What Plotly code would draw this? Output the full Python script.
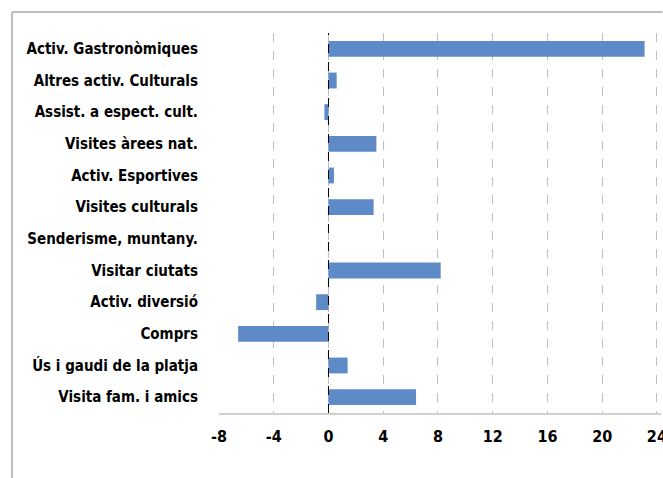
import plotly.graph_objects as go

categories = [
    "Activ. Gastronòmiques",
    "Altres activ. Culturals",
    "Assist. a espect. cult.",
    "Visites àrees nat.",
    "Activ. Esportives",
    "Visites culturals",
    "Senderisme, muntany.",
    "Visitar ciutats",
    "Activ. diversió",
    "Comprs",
    "Ús i gaudi de la platja",
    "Visita fam. i amics",
]
values = [23.1, 0.6, -0.3, 3.5, 0.4, 3.3, 0.0, 8.2, -0.9, -6.6, 1.4, 6.4]
x_ticks = [-8, -4, 0, 4, 8, 12, 16, 20, 24]

FONT = "DejaVu Sans Condensed, Liberation Sans Narrow, Roboto, sans-serif"

PLOT_L, PLOT_R, PLOT_T, PLOT_B = 219, 2, 33, 65
W, H = 663, 478
plot_w = W - PLOT_L - PLOT_R
plot_h = H - PLOT_T - PLOT_B

# frame edges in paper units
frame_x0 = -(PLOT_L - 12) / plot_w
frame_x1 = 1 + (PLOT_R - 0.5) / plot_w
frame_top = 1 + (PLOT_T - 12) / plot_h

fig = go.Figure(
    go.Bar(
        x=values,
        y=categories,
        orientation="h",
        marker=dict(color="#5E8AC7", line=dict(width=0)),
        width=0.5,
    )
)

fig.update_layout(
    width=W,
    height=H,
    margin=dict(l=PLOT_L, r=PLOT_R, t=PLOT_T, b=PLOT_B, autoexpand=False),
    paper_bgcolor="white",
    plot_bgcolor="white",
    showlegend=False,
    font=dict(family=FONT, size=15, color="black"),
    xaxis=dict(
        range=[-8, 24.3],
        tickvals=x_ticks,
        ticktext=[str(v) for v in x_ticks],
        showgrid=True,
        gridcolor="#BFBFBF",
        griddash="dash",
        gridwidth=1,
        zeroline=False,
        showline=True,
        linecolor="#D0D0D0",
        linewidth=2,
        ticks="",
        ticklabelstandoff=8,
        ticklabeloverflow="allow",
        automargin=False,
        tickfont=dict(family=FONT, size=16, color="black", weight="bold"),
    ),
    yaxis=dict(
        autorange="reversed",
        showgrid=False,
        zeroline=False,
        showline=False,
        ticks="",
        ticklabelstandoff=20,
        automargin=False,
        tickfont=dict(family=FONT, size=15, color="black", weight="bold"),
    ),
    shapes=[
        # dashed zero reference line
        dict(type="line", xref="x", yref="paper", x0=0, x1=0, y0=0, y1=1,
             line=dict(color="black", width=1, dash="dash")),
        # outer chart frame: top edge
        dict(type="line", xref="paper", yref="paper", layer="below",
             x0=frame_x0, x1=frame_x1, y0=frame_top, y1=frame_top,
             line=dict(color="#BDBDBD", width=2)),
        # outer chart frame: left edge (runs off the bottom of the page)
        dict(type="line", xref="paper", yref="paper", layer="below",
             x0=frame_x0, x1=frame_x0, y0=-0.3, y1=frame_top,
             line=dict(color="#BDBDBD", width=2)),
    ],
)

fig.write_html("out.html", config={"displayModeBar": False})
